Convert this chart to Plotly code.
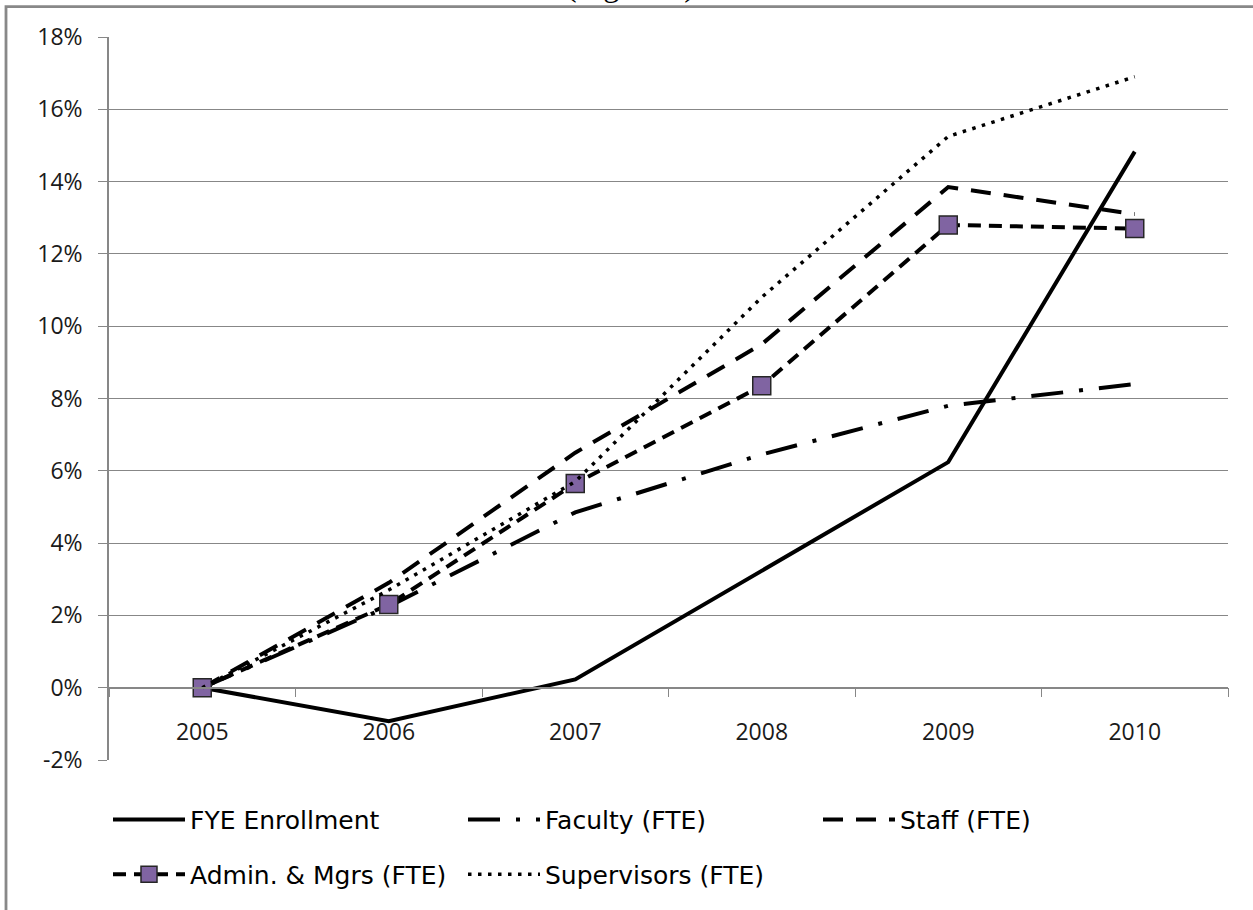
import plotly.graph_objects as go

years = ["2005", "2006", "2007", "2008", "2009", "2010"]
fye_enrollment = [0.0, -0.93, 0.23, 3.25, 6.24, 14.83]
faculty_fte = [0.0, 2.25, 4.85, 6.45, 7.8, 8.4]
staff_fte = [0.0, 2.9, 6.5, 9.5, 13.85, 13.1]
admin_mgrs_fte = [0.0, 2.3, 5.65, 8.35, 12.8, 12.7]
supervisors_fte = [0.0, 2.7, 5.7, 10.8, 15.25, 16.9]

y_tickvals = [-2, 0, 2, 4, 6, 8, 10, 12, 14, 16, 18]
y_ticktext = ["-2%", "0%", "2%", "4%", "6%", "8%", "10%", "12%", "14%", "16%", "18%"]

W, H = 1253, 910
# plot area bounds in screenshot pixels
L, R, T, B = 109, 1228, 37, 763


def px_x(p):
    return (p - L) / (R - L)


def px_y(p):
    return (B - p) / (B - T)


fig = go.Figure()
fig.add_trace(go.Scatter(x=years, y=fye_enrollment, name="FYE Enrollment", mode="lines",
                         line=dict(color="black", width=4), legend="legend"))
fig.add_trace(go.Scatter(x=years, y=faculty_fte, name="Faculty (FTE)", mode="lines",
                         line=dict(color="black", width=4, dash="32px,16px,4px,16px"), legend="legend"))
fig.add_trace(go.Scatter(x=years, y=staff_fte, name="Staff (FTE)", mode="lines",
                         line=dict(color="black", width=4, dash="20px,13px"), legend="legend"))
fig.add_trace(go.Scatter(x=years, y=admin_mgrs_fte, name="Admin. & Mgrs (FTE)", mode="lines+markers",
                         line=dict(color="black", width=4, dash="13px,8px"),
                         marker=dict(symbol="square", size=18, color="#8064A2",
                                     line=dict(color="#262626", width=1.5)),
                         legend="legend2"))
fig.add_trace(go.Scatter(x=years, y=supervisors_fte, name="Supervisors (FTE)", mode="lines",
                         line=dict(color="black", width=3.5, dash="3.5px,6.5px"), legend="legend2"))

grid_col = "#878787"
leg_font = dict(family="DejaVu Sans", size=25, color="black")
fig.update_layout(
    width=W, height=H,
    margin=dict(l=L, r=W - R, t=T, b=H - B),
    paper_bgcolor="white", plot_bgcolor="white",
    font=dict(family="Open Sans", color="#1a1a1a"),
    showlegend=True,
    xaxis=dict(type="category", range=[-0.5, 5.5], tickson="boundaries",
               ticks="outside", ticklen=9, tickcolor=grid_col, tickwidth=1,
               showline=True, linecolor=grid_col, linewidth=1.5,
               anchor="free", position=0.1, showgrid=False,
               tickfont=dict(size=23, color="#1a1a1a"), ticklabelstandoff=24),
    yaxis=dict(range=[-2, 18], tickvals=y_tickvals, ticktext=y_ticktext,
               ticks="outside", ticklen=9, tickcolor=grid_col, tickwidth=1,
               showline=True, linecolor=grid_col, linewidth=1.5,
               showgrid=True, gridcolor=grid_col, gridwidth=1.2, zeroline=False,
               tickfont=dict(size=23, color="#1a1a1a"), ticklabelstandoff=11),
    legend=dict(orientation="h", x=px_x(108), y=px_y(800), xanchor="left", yanchor="top",
                entrywidth=268, entrywidthmode="pixels", itemwidth=72,
                font=leg_font, bgcolor="rgba(0,0,0,0)", traceorder="normal"),
    legend2=dict(orientation="h", x=px_x(108), y=px_y(855), xanchor="left", yanchor="top",
                 entrywidth=268, entrywidthmode="pixels", itemwidth=72,
                 font=leg_font, bgcolor="rgba(0,0,0,0)", traceorder="normal"),
    shapes=[
        dict(type="rect", xref="paper", yref="paper",
             x0=px_x(6), x1=px_x(1300), y0=px_y(1000), y1=px_y(6.5),
             line=dict(color="#888888", width=2.8), fillcolor="rgba(0,0,0,0)", layer="below"),
    ],
    annotations=[
        dict(text="(Figure 5)", xref="paper", yref="paper", x=px_x(630), y=px_y(4.5),
             xanchor="center", yanchor="bottom", showarrow=False,
             font=dict(family="Liberation Serif", size=32, color="black")),
    ],
)

fig.write_html("out.html", config={"displayModeBar": False},
               post_script="document.body.style.margin='0';document.body.style.padding='0';")
